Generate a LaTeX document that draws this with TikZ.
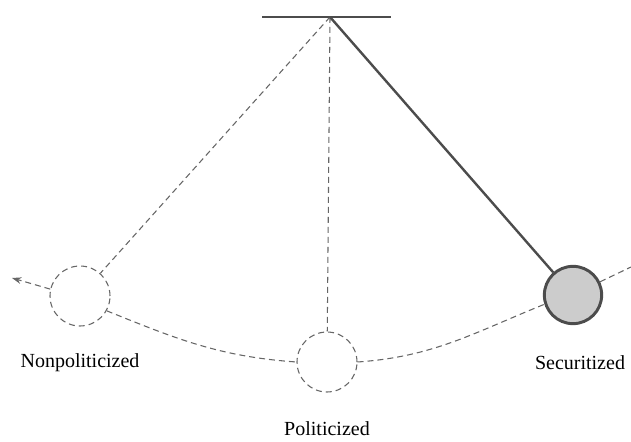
\documentclass[tikz,border=0pt]{standalone}
\usepackage{fontspec}
\setmainfont{Liberation Serif}
\usetikzlibrary{arrows.meta}

\tikzset{
    ghost/.style={circle, draw=black!60, dash pattern=on 4.5pt off 3pt, line width=0.8pt, fill=white, minimum size=45pt, inner sep=0pt},
    swing/.style={draw=black!60, dash pattern=on 4.5pt off 3pt, line width=0.8pt},
    ball/.style={circle, draw=black!70, line width=2.2pt, fill=black!20, minimum size=43pt, inner sep=0pt},
    state/.style={font=\fontsize{15}{18}\selectfont}
}

\begin{document}
\begin{tikzpicture}[x=0.75pt, y=0.75pt]
    \useasboundingbox (0,0) rectangle (631,442);
    % bar and pivot
    \coordinate (barl) at (262,425);
    \coordinate (barr) at (391,425);
    \coordinate (pivot) at (330,425);
    \draw[black!70, line width=2.2pt] (barl) -- (barr);
    % bobs
    \node[ghost] (nonpol) at (80,146) {};
    \node[ghost] (pol) at (327,80) {};
    \node[ball] (sec) at (573,147) {};
    % strings
    \draw[swing] (pivot) -- (nonpol);
    \draw[swing] (pivot) -- (pol);
    \draw[black!70, line width=1.8pt] (pivot) -- (sec);
    % path of the swing
    \coordinate (tip) at (12,164);
    \coordinate (farr) at (631,175);
    \draw[swing, -{Stealth[length=7pt, width=5pt]}] (nonpol.167) -- (tip);
    \draw[swing] (nonpol.-29) to[out=-22, in=176] (pol.180);
    \draw[swing] (pol.0) to[out=4, in=-158] (sec.198);
    \draw[swing] (sec.26) -- (farr);
    % labels
    \node[state] (nonpollab) at (80,79) {Nonpoliticized};
    \node[state] (pollab) at (327,13) {Politicized};
    \node[state] (seclab) at (580,79) {Securitized};
\end{tikzpicture}
\end{document}
